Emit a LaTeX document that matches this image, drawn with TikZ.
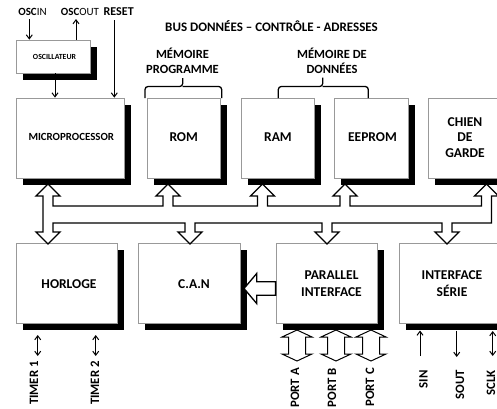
\documentclass[tikz,border=0pt]{standalone}
\usepackage{fontspec}
\setmainfont{Carlito}
\usetikzlibrary{arrows.meta,shadows}
\begin{document}
\begin{tikzpicture}[x=1pt,y=-1pt,
  box/.style={draw=black!40, line width=0.8pt, fill=white, minimum width=#1, inner sep=0pt,
    drop shadow={shadow xshift=7pt, shadow yshift=-7pt, fill=black, opacity=1}},
  tall/.style={minimum height=80pt},
  lab/.style={font=\bfseries\fontsize{13.5}{16.5}\selectfont, align=center, inner sep=0pt},
  sml/.style={font=\bfseries\fontsize{12.5}{15}\selectfont, align=center, inner sep=0pt},
  vlab/.style={font=\bfseries\fontsize{12.8}{15}\selectfont, rotate=90, anchor=east, inner sep=0pt},
  arr/.style={line width=1pt, -{Straight Barb[length=4pt,width=6pt]}},
  darr/.style={line width=1pt, {Straight Barb[length=4pt,width=6pt]}-{Straight Barb[length=4pt,width=6pt]}},
  hollow/.style={draw=black, line width=1.3pt, fill=white, line join=miter},
  brace/.style={line width=1.3pt, rounded corners=3pt}]
\fill[white] (0,0) rectangle (497,408);
\useasboundingbox (0,0) rectangle (497,408);
\clip (0,0) rectangle (497,408);

% top labels
\node[font=\fontsize{11}{12}\selectfont, inner sep=0pt] (oscin) at (32.5,12) {\textbf{OSC}IN};
\node[font=\fontsize{11}{12}\selectfont, inner sep=0pt] (oscout) at (80,12) {\textbf{OSC}OUT};
\node[sml, font=\bfseries\fontsize{12}{14}\selectfont] (reset) at (118.7,12) {RESET};
\node[sml, font=\bfseries\fontsize{13}{15}\selectfont] (bus) at (271.5,26) {BUS DONNÉES – CONTRÔLE - ADRESSES};
\node[sml] (mprog) at (182.5,61) {MÉMOIRE\\PROGRAMME};
\node[sml] (mdon) at (332,60.5) {MÉMOIRE DE\\DONNÉES};

% oscillator
\node[box=74pt, minimum height=33pt] (osc) at (53,56.5) {};
\node[font=\bfseries\fontsize{7.8}{9}\selectfont, inner sep=0pt] (osct) at (54.5,56.5) {OSCILLATEUR};

% top row
\node[box=108pt, tall] (micro) at (70,138) {};
\node[box=73pt, tall] (rom) at (183.5,138) {};
\node[box=73pt, tall] (ram) at (277.5,138) {};
\node[box=74pt, tall] (eeprom) at (371,138) {};
\node[box=74pt, tall] (chien) at (465,138) {};
\node[font=\bfseries\fontsize{10.9}{12}\selectfont, inner sep=0pt] (microt) at (71.3,137) {MICROPROCESSOR};
\node[lab] (romt) at (183.7,137) {ROM};
\node[lab] (ramt) at (278,137) {RAM};
\node[lab] (eepromt) at (372.5,137) {EEPROM};
\node[lab, font=\bfseries\fontsize{13.5}{15.7}\selectfont] (chient) at (465,137.5) {CHIEN\\DE\\GARDE};

% bottom row
\node[box=101pt, tall] (horloge) at (66.5,283) {};
\node[box=102pt, tall] (can) at (189,283) {};
\node[box=101pt, tall] (par) at (326.5,283) {};
\node[box=101pt, tall] (serie) at (449.5,283) {};
\node[lab] (horloget) at (69,284) {HORLOGE};
\node[lab] (cant) at (194,284) {C.A.N};
\node[lab] (part) at (331.5,283.5) {PARALLEL\\INTERFACE};
\node[lab] (seriet) at (452,283.5) {INTERFACE\\SÉRIE};

% thin arrows at top
\coordinate (oscinA) at (29.3,19);
\coordinate (oscoutA) at (76,19);
\coordinate (resetA) at (114.3,20);
\draw[arr] (oscinA) -- (oscinA |- osc.north);
\draw[arr] (oscoutA |- osc.north) -- (oscoutA);
\draw[arr] (osc.south -| 55,0) -- (micro.north -| 55,0);
\draw[arr] (resetA) -- (resetA |- micro.north);

% braces
\draw[brace] (145,98) |- (182.7,86.5) -- (182.7,78);
\draw[brace] (221.7,98) |- (182.7,86.5);
\draw[brace] (278.3,98) |- (322.7,86.5) -- (322.7,77.5);
\draw[brace] (368.3,98) |- (322.7,86.5);

% bus
\draw[hollow] (48,184) -- (60,196) -- (53,196) -- (53,206)
  -- (163,206) -- (163,196) -- (156,196) -- (168,184) -- (180,196) -- (173,196) -- (173,206)
  -- (257.5,206) -- (257.5,196) -- (250.5,196) -- (262.5,184) -- (274.5,196) -- (267.5,196) -- (267.5,206)
  -- (340,206) -- (340,196) -- (333,196) -- (345,184) -- (357,196) -- (350,196) -- (350,206)
  -- (481.5,206) -- (481.5,196) -- (474.5,196) -- (486.5,184) -- (498.5,196) -- (491.5,196)
  -- (491.5,223)
  -- (452,223) -- (452,232) -- (459,232) -- (447,244) -- (435,232) -- (442,232) -- (442,223)
  -- (332,223) -- (332,232) -- (339,232) -- (327,244) -- (315,232) -- (322,232) -- (322,223)
  -- (195,223) -- (195,232) -- (202,232) -- (190,244) -- (178,232) -- (185,232) -- (185,223)
  -- (53,223) -- (53,232) -- (60,232) -- (48,244) -- (36,232) -- (43,232)
  -- (43,196) -- (36,196) -- cycle;

% parallel -> CAN
\draw[hollow] (244,288.5) -- (256.7,273.5) -- (256.7,281.8) -- (par.west |- 0,281.8)
  -- (par.west |- 0,295.2) -- (256.7,295.2) -- (256.7,303.5) -- cycle;

% ports
\foreach \c in {297,336,371}{
  \draw[hollow, line width=1pt] (\c,330) -- ({\c+15},337) -- ({\c+8.5},337) -- ({\c+8.5},354) -- ({\c+15},354)
    -- (\c,361) -- ({\c-15},354) -- ({\c-8.5},354) -- ({\c-8.5},337) -- ({\c-15},337) -- cycle;
}
\node[vlab] (pa) at (295,368) {PORT A};
\node[vlab] (pb) at (332,368) {PORT B};
\node[vlab] (pc) at (370,368) {PORT C};

% timers
\coordinate (t1a) at (37.7,335);
\coordinate (t1b) at (37.7,356);
\coordinate (t2a) at (95.7,335);
\coordinate (t2b) at (95.7,356);
\draw[darr] (t1a) -- (t1b);
\draw[darr] (t2a) -- (t2b);
\node[vlab] (tm1) at (34,361) {TIMER 1};
\node[vlab] (tm2) at (95,361) {TIMER 2};

% serial
\coordinate (sinA) at (420,356);
\coordinate (soutA) at (456.7,357);
\coordinate (sclkA) at (492.7,356);
\draw[arr] (sinA) -- (420,330.5);
\draw[arr] (456.7,330.5) -- (soutA);
\draw[darr] (492.7,331) -- (sclkA);
\node[vlab] (sint) at (423.5,370) {SIN};
\node[vlab] (soutt) at (460,370) {SOUT};
\node[vlab] (sclkt) at (491,370) {SCLK};
\end{tikzpicture}
\end{document}
